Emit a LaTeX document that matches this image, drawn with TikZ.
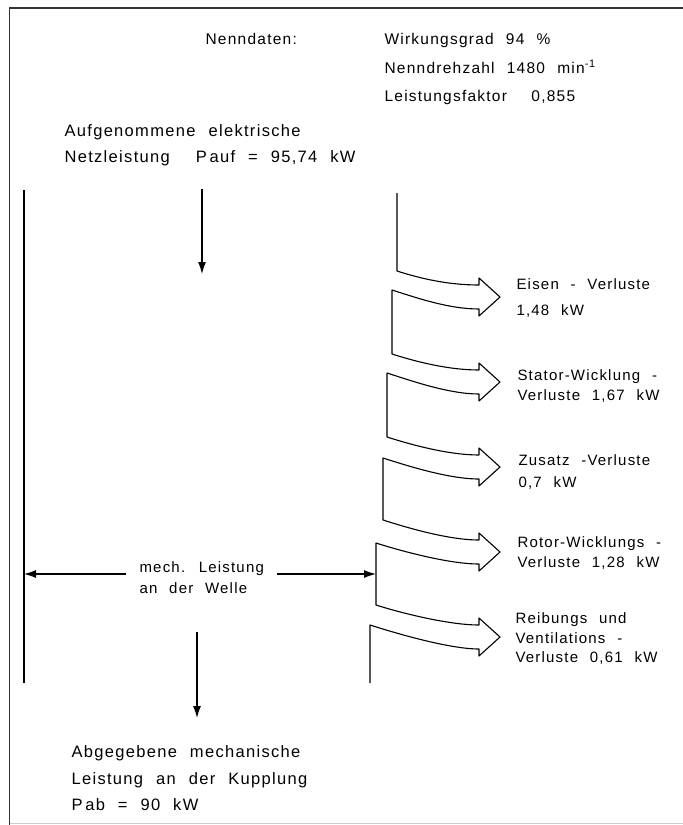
\documentclass[tikz,border=0pt]{standalone}
\usepackage{fontspec}
\setmainfont{Liberation Sans}[LetterSpace=8, WordSpace=2.2]
\usetikzlibrary{arrows.meta, positioning}

\begin{document}
\begin{tikzpicture}[x=1pt, y=-1pt, line width=1.1pt, line join=round,
    every node/.style={anchor=base west, inner sep=0pt, align=left, font=\fontsize{15}{26}\selectfont},
    arr/.style={-{Latex[length=12pt, width=8pt]}}]
  \useasboundingbox (0,0) rectangle (683,825);
  % frame
  \draw[line width=1.8pt, black!80] (683,8) -- (9.5,8) -- (9.5,825);
  \draw[line width=1pt, black!20] (9.5,823.5) -- (683,823.5);

  % data (anchor = baseline of last line)
  \node[font=\fontsize{15.5}{28.5}\selectfont] (N) at (205,44.5) {Nenndaten:};
  \node[font=\fontsize{15.5}{28.5}\selectfont] (D) at (384,101.5) {Wirkungsgrad 94 \%\\Nenndrehzahl 1480 min\textsuperscript{-1}\\Leistungsfaktor\ \ 0,855};
  \node[font=\fontsize{16.5}{26}\selectfont] (P) at (64,162.5) {Aufgenommene elektrische\\Netzleistung\ \ P\,auf = 95,74 kW};

  % losses
  \node (E) at (516,315.5) {Eisen - Verluste\\1,48 kW};
  \node[font=\fontsize{15}{20}\selectfont] (S) at (517,400.5) {Stator-Wicklung -\\Verluste 1,67 kW};
  \node[font=\fontsize{15}{22}\selectfont] (Z) at (518,487.5) {Zusatz -Verluste\\0,7 kW};
  \node[font=\fontsize{15}{20}\selectfont] (R) at (517,567.5) {Rotor-Wicklungs -\\Verluste 1,28 kW};
  \node[font=\fontsize{15}{19.5}\selectfont] (V) at (515,662.5) {Reibungs und\\Ventilations -\\Verluste 0,61 kW};

  \node (M) at (139,572.5) {mech. Leistung};
  \node (W) at (139,593.5) {an der Welle};
  \node[font=\fontsize{16.5}{26.5}\selectfont] (A) at (71,810.5) {Abgegebene mechanische\\Leistung an der Kupplung\\P\,ab = 90 kW};

  \coordinate (lt) at (24,190);
  \coordinate (lb) at (24,683);
  \coordinate (rt) at (397,193);
  \coordinate (rb) at (370,683);
  \coordinate (rm) at (376,574);
  \coordinate (i1) at (202,189);
  \coordinate (i2) at (202,274);
  \coordinate (o1) at (197,632);
  \coordinate (o2) at (197,718);

  % flow band
  \draw (lt) -- (lb);
  \draw (rt) foreach \xa/\ya/\xb/\yb/\yt in {397/271/392/290/297, 392/354/387/373/382, 387/437/383/458/467, 383/520/376/543/552, 376/605/370/625/637}
    { -- (\xa,\ya) .. controls +(25,8) and +(-30,0) .. (479,{\yt-12}) -- (479,{\yt-19}) -- (500,\yt)
      -- (479,{\yt+19}) -- (479,{\yt+12}) .. controls +(-30,0) and +(25,8) .. (\xb,\yb) } -- (rb);

  \draw[arr] (i1) -- (i2);
  \draw[arr] (o1) -- (o2);
  \draw[arr] ([shift={(-13,1.5)}]M.base west) -- ([yshift=-1.5pt]M.base west -| lt);
  \draw[arr] ([shift={(13,1.5)}]M.base east) -- ([yshift=-1.5pt]M.base east -| rm);
\end{tikzpicture}
\end{document}
